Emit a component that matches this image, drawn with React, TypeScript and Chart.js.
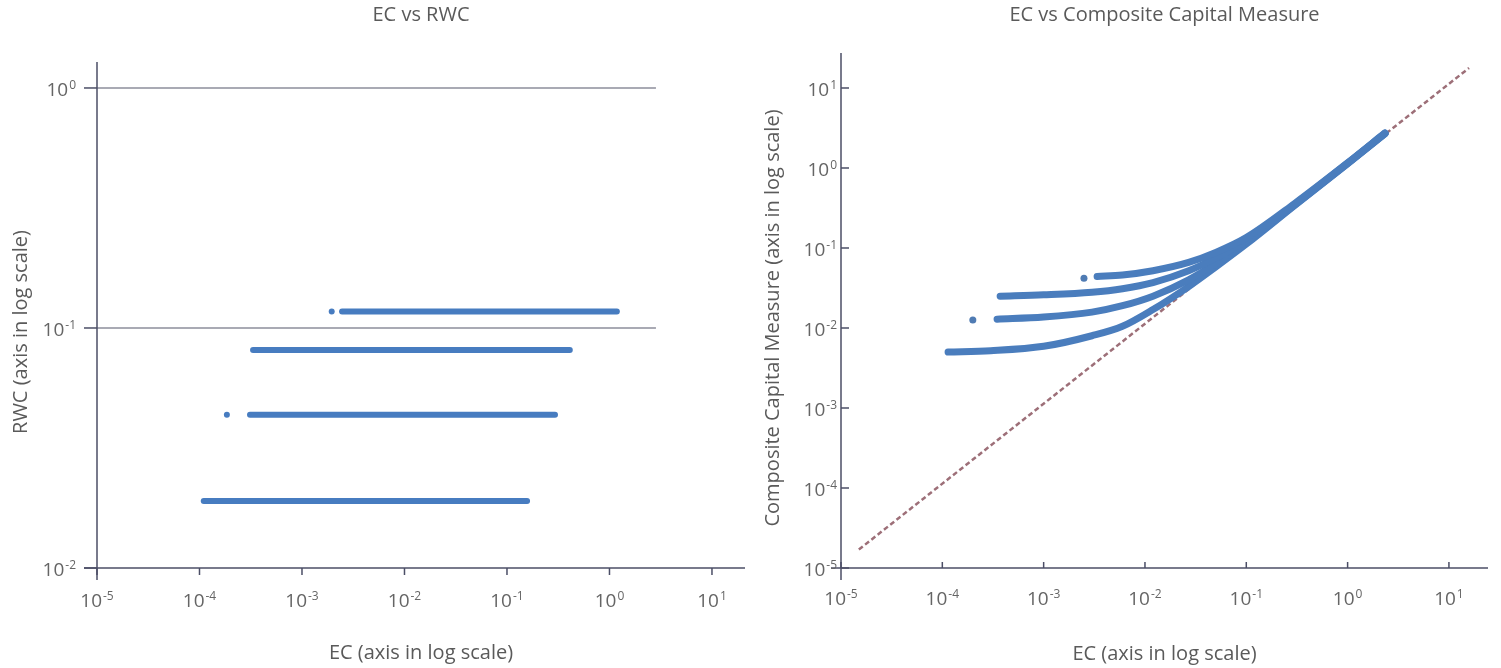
import React, { useEffect, useRef } from 'react';
import { Chart, registerables } from 'chart.js';

Chart.register(...registerables);

// ---------- EC vs RWC ----------
const rwcLevels = [0.117, 0.081, 0.0435, 0.019];
const rwcEcStart = [2.46e-3, 3.33e-4, 3.11e-4, 1.1e-4];
const rwcEcEnd = [1.18, 0.41, 0.294, 0.157];
const rwcLoneEc = [1.95e-3, 1.85e-4];
const rwcLoneVal = [0.117, 0.0435];
const rwcGridValues = [1, 0.1];
const rwcGridEndEc = 2.84;
const rwcYExps = [0, -1, -2];

// ---------- EC vs Composite Capital Measure ----------
const curveAEc = [3.37e-3, 6e-3, 0.012, 0.027, 0.05, 0.1, 0.3, 1, 2.34];
const curveAVal = [0.044, 0.046, 0.052, 0.066, 0.088, 0.135, 0.36, 1.16, 2.75];
const curveBEc = [3.72e-4, 1e-3, 3e-3, 6e-3, 0.012, 0.027, 0.05, 0.1, 0.3, 1, 2.34];
const curveBVal = [0.025, 0.026, 0.028, 0.031, 0.037, 0.052, 0.075, 0.125, 0.35, 1.15, 2.72];
const curveCEc = [3.47e-4, 1e-3, 3e-3, 6e-3, 0.012, 0.027, 0.05, 0.1, 0.3, 1, 2.34];
const curveCVal = [0.0129, 0.0137, 0.0158, 0.019, 0.025, 0.04, 0.064, 0.117, 0.345, 1.14, 2.7];
const curveDEc = [1.14e-4, 3e-4, 1e-3, 3e-3, 6e-3, 0.012, 0.027, 0.05, 0.1, 0.3, 1, 2.34];
const curveDVal = [0.005, 0.0052, 0.0059, 0.008, 0.0105, 0.017, 0.033, 0.058, 0.112, 0.34, 1.13, 2.68];
const ccmLoneEc = [2.5e-3, 2.0e-4];
const ccmLoneVal = [0.042, 0.0126];
const parityEc = [1.5e-5, 15.8];
const parityVal = [1.7e-5, 17.8];
const ccmYExps = [1, 0, -1, -2, -3, -4, -5];

const ecExps = [-5, -4, -3, -2, -1, 0, 1];

// ---------- styling ----------
const FONT = '"Open Sans", "Noto Sans", sans-serif';
const TITLE_COLOR = '#5a5a5a';
const TICK_COLOR = '#656565';
const AXIS_COLOR = '#4b4e66';
const GRID_COLOR = '#8d8e9b';
const BLUE = '#477cc0';
const CURVE_BLUE = '#4a7dbd';
const DASH_COLOR = '#9d6f78';

const pts = (xs: number[], ys: number[]) => xs.map((x, i) => ({ x, y: ys[i] }));

function drawText(
  ctx: CanvasRenderingContext2D,
  s: string,
  x: number,
  y: number,
  size: number,
  color: string,
  align: CanvasTextAlign = 'center',
  rot = 0
) {
  ctx.save();
  ctx.translate(x, y);
  ctx.rotate(rot);
  ctx.font = `${size}px ${FONT}`;
  ctx.fillStyle = color;
  ctx.textAlign = align;
  ctx.textBaseline = 'alphabetic';
  ctx.fillText(s, 0, 0);
  ctx.restore();
}

// "10" with a raised exponent
function drawPower(
  ctx: CanvasRenderingContext2D,
  exp: number,
  x: number,
  y: number,
  align: 'center' | 'right'
) {
  const base = '10';
  const sup = String(exp);
  ctx.save();
  ctx.font = `19px ${FONT}`;
  const wb = ctx.measureText(base).width;
  ctx.font = `12px ${FONT}`;
  const we = ctx.measureText(sup).width;
  const total = wb + 1 + we;
  const left = align === 'center' ? x - total / 2 : x - total;
  ctx.fillStyle = TICK_COLOR;
  ctx.textAlign = 'left';
  ctx.textBaseline = 'alphabetic';
  ctx.font = `19px ${FONT}`;
  ctx.fillText(base, left, y);
  ctx.font = `12px ${FONT}`;
  ctx.fillText(sup, left + wb + 1, y - 7);
  ctx.restore();
}

function line(ctx: CanvasRenderingContext2D, x1: number, y1: number, x2: number, y2: number) {
  ctx.beginPath();
  ctx.moveTo(x1, y1);
  ctx.lineTo(x2, y2);
  ctx.stroke();
}

const rwcFrame = {
  id: 'rwcFrame',
  beforeDatasetsDraw(chart: any) {
    const ctx: CanvasRenderingContext2D = chart.ctx;
    const { left, right, top, bottom } = chart.chartArea;
    const xs = chart.scales.x;
    const ys = chart.scales.y;
    ctx.save();
    ctx.lineWidth = 1.5;
    ctx.strokeStyle = GRID_COLOR;
    const gx = xs.getPixelForValue(rwcGridEndEc);
    rwcGridValues.forEach((v) => {
      const py = ys.getPixelForValue(v);
      line(ctx, left, py, gx, py);
    });
    ctx.strokeStyle = AXIS_COLOR;
    line(ctx, left, top, left, bottom + 12);
    line(ctx, left - 13, bottom, right, bottom);
    rwcYExps.forEach((e) => {
      const py = ys.getPixelForValue(Math.pow(10, e));
      line(ctx, left - 13, py, left, py);
      drawPower(ctx, e, left - 21, py + 8, 'right');
    });
    ecExps.forEach((e) => {
      const px = xs.getPixelForValue(Math.pow(10, e));
      line(ctx, px, bottom, px, bottom + 7);
      drawPower(ctx, e, px, bottom + 39, 'center');
    });
    ctx.restore();
    drawText(ctx, 'EC vs RWC', (left + right) / 2, 21, 20, TITLE_COLOR);
    drawText(ctx, 'EC (axis in log scale)', (left + right) / 2, 659, 20, TITLE_COLOR);
    drawText(ctx, 'RWC (axis in log scale)', 27, 332, 20, TITLE_COLOR, 'center', -Math.PI / 2);
  },
};

const ccmFrame = {
  id: 'ccmFrame',
  beforeDatasetsDraw(chart: any) {
    const ctx: CanvasRenderingContext2D = chart.ctx;
    const { left, right, top, bottom } = chart.chartArea;
    const xs = chart.scales.x;
    const ys = chart.scales.y;
    ctx.save();
    ctx.lineWidth = 1.5;
    ctx.strokeStyle = AXIS_COLOR;
    line(ctx, left, top, left, bottom + 12);
    line(ctx, left - 10, bottom, right, bottom);
    ccmYExps.forEach((e) => {
      const py = ys.getPixelForValue(Math.pow(10, e));
      line(ctx, left, py, left + 8, py);
      drawPower(ctx, e, left - 4, py + 8, 'right');
    });
    ecExps.forEach((e) => {
      const px = xs.getPixelForValue(Math.pow(10, e));
      line(ctx, px, bottom - 6, px, bottom);
      drawPower(ctx, e, px, bottom + 37, 'center');
    });
    ctx.restore();
    drawText(ctx, 'EC vs Composite Capital Measure', (left + right) / 2, 21, 20, TITLE_COLOR);
    drawText(ctx, 'EC (axis in log scale)', (left + right) / 2, 660, 20, TITLE_COLOR);
    drawText(
      ctx,
      'Composite Capital Measure (axis in log scale)',
      29,
      318,
      20,
      TITLE_COLOR,
      'center',
      -Math.PI / 2
    );
  },
};

const baseOptions = (xMax: number, yMin: number, yMax: number, padding: any) => ({
  responsive: false,
  animation: false as const,
  devicePixelRatio: 1,
  events: [] as any[],
  layout: { padding },
  plugins: { legend: { display: false }, tooltip: { enabled: false }, title: { display: false } },
  scales: {
    x: { type: 'logarithmic' as const, min: 1e-5, max: xMax, display: false, bounds: 'data' as const },
    y: { type: 'logarithmic' as const, min: yMin, max: yMax, display: false, bounds: 'data' as const },
  },
});

function buildRwc(canvas: HTMLCanvasElement) {
  const rows = rwcLevels.map((lvl, i) => ({
    data: [
      { x: rwcEcStart[i], y: lvl },
      { x: rwcEcEnd[i], y: lvl },
    ],
    borderColor: BLUE,
    borderWidth: 6,
    borderCapStyle: 'round' as const,
    pointRadius: 0,
    fill: false,
  }));
  return new Chart(canvas, {
    type: 'line',
    data: {
      datasets: [
        ...rows,
        {
          data: pts(rwcLoneEc, rwcLoneVal),
          showLine: false,
          pointRadius: 3,
          pointBackgroundColor: BLUE,
          pointBorderWidth: 0,
        },
      ] as any,
    },
    options: baseOptions(21.0, 0.01, 1.283, { left: 97, right: 5, top: 62, bottom: 100 }) as any,
    plugins: [rwcFrame],
  });
}

function buildCcm(canvas: HTMLCanvasElement) {
  const curve = (xs: number[], ys: number[]) => ({
    data: pts(xs, ys),
    borderColor: CURVE_BLUE,
    borderWidth: 7,
    borderCapStyle: 'round' as const,
    borderJoinStyle: 'round' as const,
    cubicInterpolationMode: 'monotone' as const,
    pointRadius: 0,
    fill: false,
  });
  return new Chart(canvas, {
    type: 'line',
    data: {
      datasets: [
        curve(curveAEc, curveAVal),
        curve(curveBEc, curveBVal),
        curve(curveCEc, curveCVal),
        curve(curveDEc, curveDVal),
        {
          data: pts(ccmLoneEc, ccmLoneVal),
          showLine: false,
          pointRadius: 3.5,
          pointBackgroundColor: '#4f7bb3',
          pointBorderWidth: 0,
        },
        {
          data: pts(parityEc, parityVal),
          borderColor: DASH_COLOR,
          borderWidth: 2.5,
          borderDash: [5, 3],
          pointRadius: 0,
          fill: false,
        },
      ] as any,
    },
    options: baseOptions(24.3, 1e-5, 27.38, { left: 91, right: 13, top: 53, bottom: 100 }) as any,
    plugins: [ccmFrame],
  });
}

function Panel(props: { width: number; left: number; build: (c: HTMLCanvasElement) => Chart }) {
  const ref = useRef<HTMLCanvasElement>(null);
  useEffect(() => {
    const chart = props.build(ref.current as HTMLCanvasElement);
    return () => chart.destroy();
  }, []);
  return (
    <canvas
      ref={ref}
      width={props.width}
      height={668}
      style={{ position: 'absolute', left: props.left, top: 0, width: props.width, height: 668 }}
    />
  );
}

export default function App() {
  return (
    <div style={{ position: 'absolute', left: 0, top: 0, width: 1501, height: 668, background: '#fff' }}>
      <Panel width={750} left={0} build={buildRwc} />
      <Panel width={751} left={750} build={buildCcm} />
    </div>
  );
}
